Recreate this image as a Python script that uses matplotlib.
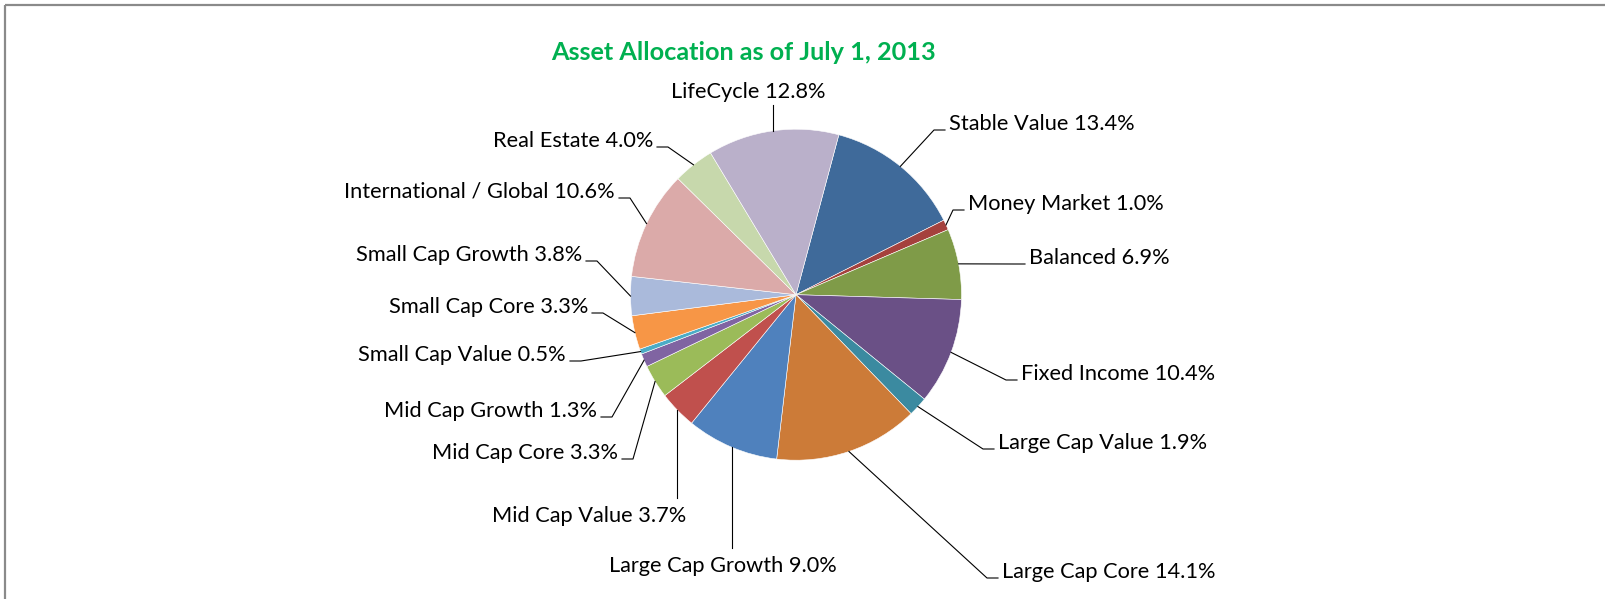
import numpy as np
import matplotlib
matplotlib.use('Agg')
import matplotlib.pyplot as plt

plt.rcParams['font.family'] = ['Lato', 'DejaVu Sans']

# ── data ──────────────────────────────
categories = ['Stable Value', 'Money Market', 'Balanced', 'Fixed Income',
              'Large Cap Value', 'Large Cap Core', 'Large Cap Growth',
              'Mid Cap Value', 'Mid Cap Core', 'Mid Cap Growth',
              'Small Cap Value', 'Small Cap Core', 'Small Cap Growth',
              'International / Global', 'Real Estate', 'LifeCycle']
shares = [13.4, 1.0, 6.9, 10.4, 1.9, 14.1, 9.0, 3.7, 3.3, 1.3,
          0.5, 3.3, 3.8, 10.6, 4.0, 12.8]
colors = ['#3F6A9A', '#A5413D', '#7F9B48', '#6A5086', '#3B8AA0',
          '#CC7B38', '#4F81BD', '#C0504D', '#9BBB59', '#8064A2',
          '#4BACC6', '#F79646', '#AABADB', '#DBAAA9', '#C7D8AC', '#BAB0CA']
title = 'Asset Allocation as of July 1, 2013'

# label layout (pixel coords): kind, x, y   ('r' text left edge, 'l' text right edge, 'v' text centre)
label_pos = [('r', 949, 124), ('r', 968, 204), ('r', 1029, 258), ('r', 1021, 374),
             ('r', 998, 443), ('r', 1002, 572), ('v', 723, 566, 548),
             ('v', 589, 516, 498), ('l', 618, 453), ('l', 597, 411),
             ('l', 566, 355), ('l', 588, 307), ('l', 582, 255),
             ('l', 615, 192), ('l', 653, 141), ('v', 748, 92, 105)]

W, H = 1606, 599
CX, CY, R = 796, 294.7, 165.5

fig = plt.figure(figsize=(W / 100, H / 100), dpi=100)
ax = fig.add_axes([0, 0, 1, 1])

wedges, _ = ax.pie(shares, colors=colors, startangle=-75, counterclock=True,
                   center=(CX, CY), radius=R,
                   wedgeprops=dict(edgecolor='white', linewidth=0.4))
ax.set_xlim(0, W)
ax.set_ylim(H, 0)
ax.set_aspect('auto')
ax.axis('off')

FS = 15.7
for w, name, val, lp in zip(wedges, categories, shares, label_pos):
    mid = np.deg2rad((w.theta1 + w.theta2) / 2)
    ex, ey = CX + R * np.cos(mid), CY + R * np.sin(mid)
    txt = f'{name} {val:.1f}%'
    kind = lp[0]
    if kind == 'r':
        tx, ty = lp[1], lp[2]
        ax.plot([ex, tx - 15, tx - 4], [ey, ty + 6, ty + 6], color='black', lw=0.8)
        ax.text(tx, ty, txt, ha='left', va='center', fontsize=FS)
    elif kind == 'l':
        tx, ty = lp[1], lp[2]
        ax.plot([ex, tx + 15, tx + 4], [ey, ty + 6, ty + 6], color='black', lw=0.8)
        ax.text(tx, ty, txt, ha='right', va='center', fontsize=FS)
    else:
        tx, ty, yend = lp[1], lp[2], lp[3]
        ax.plot([ex, ex], [ey, yend], color='black', lw=0.8)
        ax.text(tx, ty, txt, ha='center', va='center', fontsize=FS)

ax.text(743, 52, title, ha='center', va='center', fontsize=18.2,
        fontweight='bold', color='#00B050')

# chart frame (only top and left visible)
ax.plot([5, W], [5, 5], color='#8A8A8A', lw=1.6, solid_capstyle='butt')
ax.plot([5, 5], [5, H], color='#8A8A8A', lw=1.6, solid_capstyle='butt')

fig.savefig('out.png', dpi=100)
